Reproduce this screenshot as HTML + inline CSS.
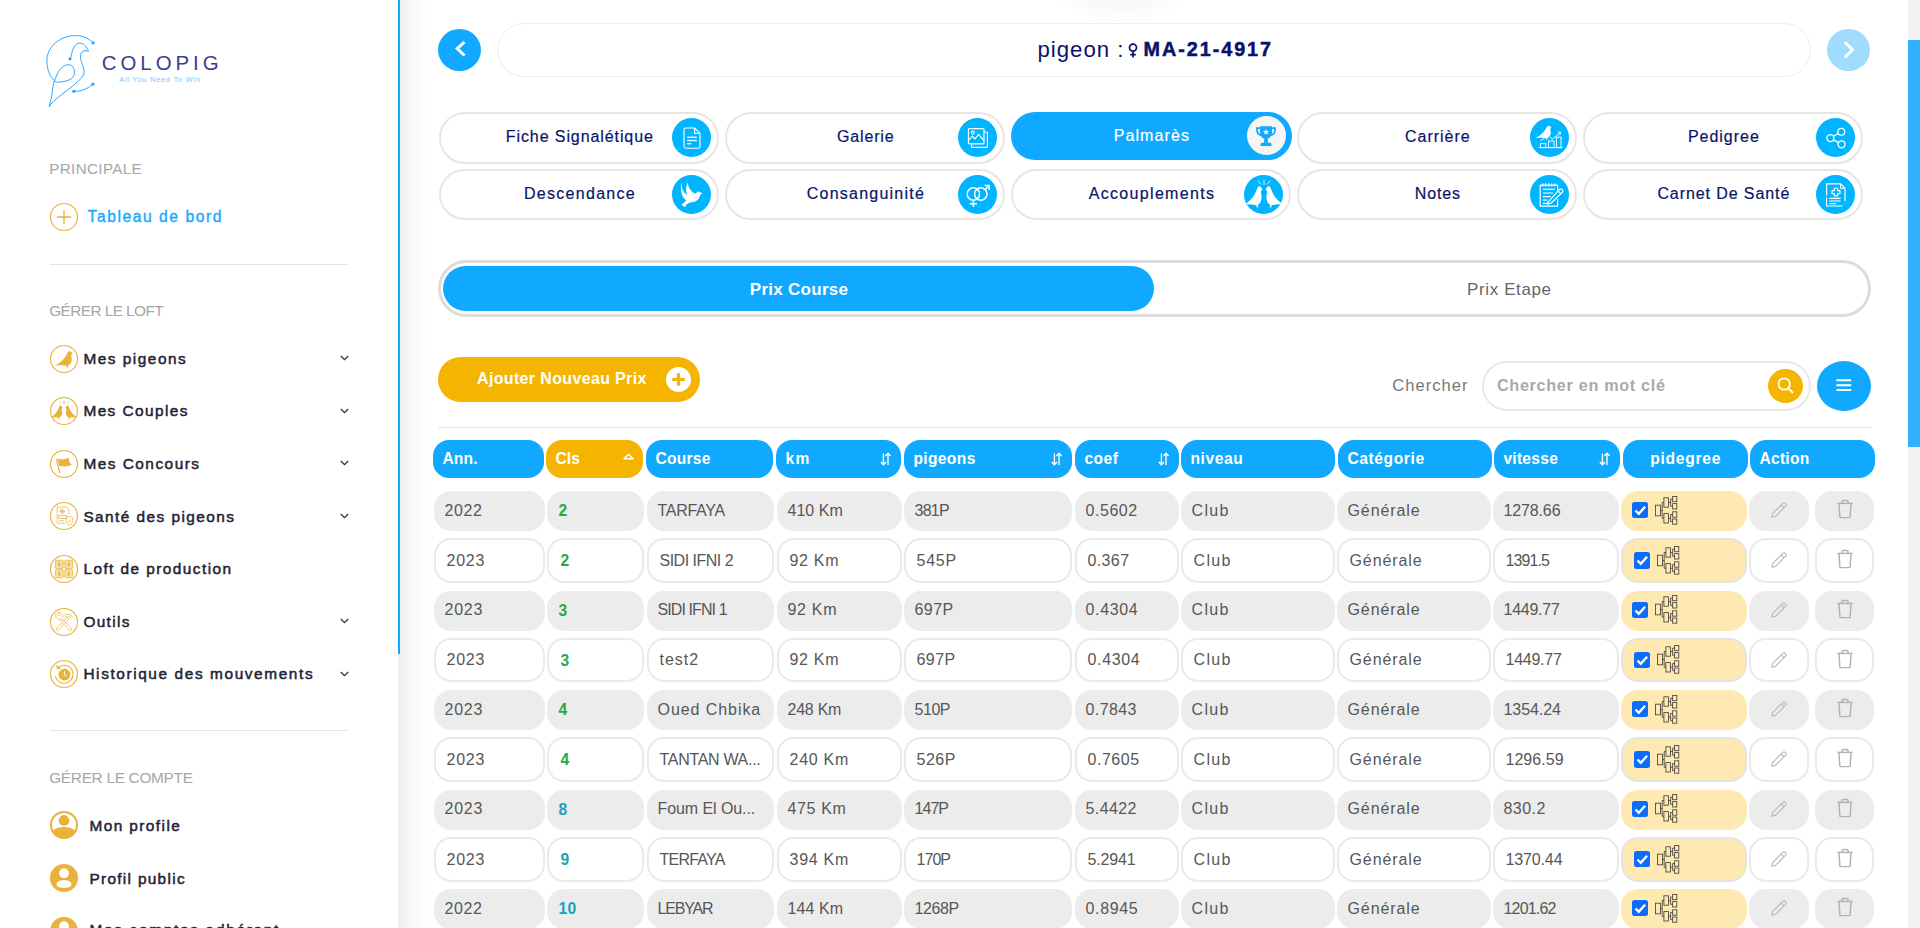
<!DOCTYPE html>
<html lang="fr"><head><meta charset="utf-8"><title>COLOPIG - Palmarès</title>
<style>
html,body{margin:0;padding:0}
body{width:1920px;height:928px;overflow:hidden;position:relative;background:#fff;font-family:"Liberation Sans",sans-serif;}
.b{position:absolute;box-sizing:border-box}
.t{position:absolute;white-space:nowrap;display:block}
svg{position:absolute;overflow:visible}
</style></head><body>

<div class="b " style="left:398.00px;top:0.00px;width:1510.00px;height:928.00px;background:linear-gradient(to right,#ededed 0,#f6f6f6 10px,#fcfcfc 24px,#fff 36px);"></div>
<div class="b " style="left:1052.00px;top:-34.00px;width:140.00px;height:58.00px;background:radial-gradient(ellipse at 50% 50%,rgba(0,0,0,0.04) 0,rgba(0,0,0,0.022) 35%,rgba(0,0,0,0) 68%);"></div>
<div class="b " style="left:0.00px;top:0.00px;width:398.00px;height:928.00px;background:#fff;"></div>
<div class="b " style="left:398.00px;top:0.00px;width:2.00px;height:654.00px;background:#10a9ff;"></div>
<svg style="left:40px;top:30px" width="64" height="84" viewBox="40 30 64 84">
<g fill="none" stroke="#1ea2ff" stroke-width="0.95" stroke-linecap="round" stroke-linejoin="round">
<path d="M93.1 42.9 C88.5 37.6 81.5 35.2 73.75 35.6 C58 36.6 46.6 48 46.9 61.25 C47.1 70 50 77.4 55 81.25 C57 82.4 59.2 82.3 61.25 81.9 C65 81.4 68.6 80.6 71.25 78.75 C73.8 76.8 74.8 74 74.4 71.25 C74.2 69.2 73.6 67.4 72.5 66.25 C71.2 65 69.4 64.6 67.5 64.75 C65.2 65 63 66.4 61.25 68.1 C59.4 70 58 72.4 56.9 75 C55.6 77.6 54.6 80 53.75 82.5 C52.8 86.5 52.4 91 51.9 95 C51.2 99 50.2 103 49.4 106.25"/>
<path d="M49.4 106.25 C51 103.8 53 101.8 55 100 C59 96.4 63.4 93.2 67.5 90 C71.2 87.2 75 84.4 78.1 81.25 C80.4 79 82.8 76.6 83.75 73.75 C84.4 71.2 83.8 68.6 83.1 66.25 C82.4 63.8 81 61.4 80.6 58.75 C80.4 56.8 80.4 54.6 81.25 53.1 C82.2 51.6 83.4 50.8 85 50.6 C86.2 50.6 87.4 51 88.5 51.25 C88.2 50 87.6 49 86.9 48.1 C86 46.6 85 45.2 83.75 44.4 C82.4 43.6 81 43.1 79.4 43.1 C77.6 43.2 76 44.2 75 45.6 C73.8 47 73 48.8 72.5 50.6 C71.8 52.8 71.2 55.2 70.6 57.5 L70 58.75"/>
<path d="M73.75 91.25 C80 91.6 87 89.6 92.9 84.1"/>
</g>
<g fill="#1ea2ff"><circle cx="93.1" cy="42.9" r="1.6"/><circle cx="70" cy="58.75" r="1.6"/><circle cx="73.75" cy="91.25" r="1.6"/><circle cx="92.9" cy="84.1" r="1.6"/></g>
</svg>
<span class="t" style="left:101.70px;top:47.80px;line-height:30px;font-size:20.4px;color:#3a3e8c;letter-spacing:4.007px;font-weight:normal;">COLOPIG</span>
<span class="t" style="left:119.20px;top:73.80px;line-height:11px;font-size:7.6px;color:#7cc8ff;letter-spacing:0.672px;">All You Need To Win</span>
<span class="t" style="left:49.20px;top:157.80px;line-height:22px;font-size:15.2px;color:#a6a6a6;letter-spacing:0.374px;">PRINCIPALE</span>
<svg style="left:49.00px;top:202.40px" width="30" height="30" viewBox="-15 -15 30 30"><circle r="13.5" fill="#fff" stroke="#e9b23a" stroke-width="1.15"/><path d="M0 -7 V7 M-7 0 H7" stroke="#e9b23a" stroke-width="1.3" fill="none"/></svg>
<span class="t" style="left:87.50px;top:204.80px;line-height:23px;font-size:15.6px;color:#10a9ff;letter-spacing:1.581px;-webkit-text-stroke:0.35px #10a9ff;">Tableau de bord</span>
<div class="b " style="left:50.00px;top:264.00px;width:298.00px;height:1.00px;background:#e4e4e4;"></div>
<span class="t" style="left:49.20px;top:299.20px;line-height:23px;font-size:15.4px;color:#a6a6a6;letter-spacing:-0.578px;">GÉRER LE LOFT</span>
<svg style="left:49.00px;top:343.60px" width="30" height="30" viewBox="-15 -15 30 30"><circle r="13.5" fill="#fff" stroke="#e9b23a" stroke-width="1.15"/><g transform="translate(-9,-7.8)"><path d="M14.6 0 C15.8 0 16.6 0.8 16.8 1.8 L17.9 2.5 L16.6 3 C16.4 3.6 16.2 4.2 16.2 5 C16.8 7 17 9 16.4 10.6 C15.8 12.4 14.6 13.6 13.2 14.2 L13 15.5 L14.2 16.1 L11 16.1 L11.8 15.3 L11.8 14.5 C10 14.6 7.6 14.2 5.8 13.9 L0 14.2 L3.4 12.2 C5.8 10.6 8.2 8.4 10 6 C11 4.6 11.6 3.4 12.2 2.2 C12.7 0.9 13.5 0 14.6 0 Z" fill="#e9b23a"/></g></svg>
<span class="t" style="left:83.40px;top:346.80px;line-height:23px;font-size:15.4px;color:#1f2433;letter-spacing:1.508px;-webkit-text-stroke:0.5px #1f2433;">Mes pigeons</span>
<svg style="left:339.5px;top:355.1px" width="9" height="6" viewBox="0 0 9 6"><path d="M0.8 1 L4.5 4.6 L8.2 1" fill="none" stroke="#333" stroke-width="1.3"/></svg>
<svg style="left:49.00px;top:396.20px" width="30" height="30" viewBox="-15 -15 30 30"><circle r="13.5" fill="#fff" stroke="#e9b23a" stroke-width="1.15"/><clipPath id="cc411"><circle r="13.6"/></clipPath><g clip-path="url(#cc411)"><g transform="translate(-13.2,-5.6) scale(0.67,0.857)"><path d="M14.6 0 C15.8 0 16.6 0.8 16.8 1.8 L17.9 2.5 L16.6 3 C16.4 3.6 16.2 4.2 16.2 5 C16.8 7 17 9 16.4 10.6 C15.8 12.4 14.6 13.6 13.2 14.2 L13 15.5 L14.2 16.1 L11 16.1 L11.8 15.3 L11.8 14.5 C10 14.6 7.6 14.2 5.8 13.9 L0 14.2 L3.4 12.2 C5.8 10.6 8.2 8.4 10 6 C11 4.6 11.6 3.4 12.2 2.2 C12.7 0.9 13.5 0 14.6 0 Z" fill="#e9b23a"/></g><g transform="translate(13.2,-5.6) scale(-0.67,0.857)"><path d="M14.6 0 C15.8 0 16.6 0.8 16.8 1.8 L17.9 2.5 L16.6 3 C16.4 3.6 16.2 4.2 16.2 5 C16.8 7 17 9 16.4 10.6 C15.8 12.4 14.6 13.6 13.2 14.2 L13 15.5 L14.2 16.1 L11 16.1 L11.8 15.3 L11.8 14.5 C10 14.6 7.6 14.2 5.8 13.9 L0 14.2 L3.4 12.2 C5.8 10.6 8.2 8.4 10 6 C11 4.6 11.6 3.4 12.2 2.2 C12.7 0.9 13.5 0 14.6 0 Z" fill="#e9b23a"/></g></g><path d="M0 -10.6 V-6.8" stroke="#e9b23a" stroke-width="1.3" fill="none" opacity="0.8"/><path d="M-5 -10.1 L-2.4 -7.2 M5 -10.1 L2.4 -7.2" stroke="#e9b23a" stroke-width="0.7" fill="none"/></svg>
<span class="t" style="left:83.40px;top:399.40px;line-height:23px;font-size:15.4px;color:#1f2433;letter-spacing:1.421px;-webkit-text-stroke:0.5px #1f2433;">Mes Couples</span>
<svg style="left:339.5px;top:407.7px" width="9" height="6" viewBox="0 0 9 6"><path d="M0.8 1 L4.5 4.6 L8.2 1" fill="none" stroke="#333" stroke-width="1.3"/></svg>
<svg style="left:49.00px;top:448.80px" width="30" height="30" viewBox="-15 -15 30 30"><circle r="13.5" fill="#fff" stroke="#e9b23a" stroke-width="1.15"/><path d="M-7.6 -5.2 L-4.2 9.2" stroke="#e9b23a" stroke-width="1.3" fill="none"/><path d="M-6.4 -5.4 C-3 -4 1 -4.6 4.6 -6.6 L5.4 -1.8 L7.8 0.8 C4 2.6 -1 2.8 -4.6 2 Z" fill="#e9b23a"/></svg>
<span class="t" style="left:83.40px;top:452.00px;line-height:23px;font-size:15.4px;color:#1f2433;letter-spacing:1.493px;-webkit-text-stroke:0.5px #1f2433;">Mes Concours</span>
<svg style="left:339.5px;top:460.3px" width="9" height="6" viewBox="0 0 9 6"><path d="M0.8 1 L4.5 4.6 L8.2 1" fill="none" stroke="#333" stroke-width="1.3"/></svg>
<svg style="left:49.00px;top:501.40px" width="30" height="30" viewBox="-15 -15 30 30"><circle r="13.5" fill="#fff" stroke="#e9b23a" stroke-width="1.15"/><g fill="none" stroke="#e9b23a" stroke-width="0.7"><path d="M-6.8 -9 H2.4 L5 -6.4 V-2 M-6.8 -9 V7.2 H1"/><rect x="-5.2" y="-0.6" width="8" height="3.2"/><path d="M-5.2 4.8 H0"/><circle cx="-1.8" cy="-4.6" r="1.9"/><path d="M-1.8 -7.4 V-1.8 M-4.6 -4.6 H1"/><path d="M5.4 0.4 L8.6 1.4 V4.6 C8.6 7 7 8.6 5.4 9.4 C3.8 8.6 2.2 7 2.2 4.6 V1.4 Z"/><path d="M3.8 5 L5 6.2 L7.2 3.6"/></g></svg>
<span class="t" style="left:83.40px;top:504.60px;line-height:23px;font-size:15.4px;color:#1f2433;letter-spacing:1.443px;-webkit-text-stroke:0.5px #1f2433;">Santé des pigeons</span>
<svg style="left:339.5px;top:512.9px" width="9" height="6" viewBox="0 0 9 6"><path d="M0.8 1 L4.5 4.6 L8.2 1" fill="none" stroke="#333" stroke-width="1.3"/></svg>
<svg style="left:49.00px;top:554.00px" width="30" height="30" viewBox="-15 -15 30 30"><circle r="13.5" fill="#fff" stroke="#e9b23a" stroke-width="1.15"/><g fill="#f6dfa6" stroke="#e9b23a" stroke-width="0.75"><rect x="-8.6" y="-8.8" width="7.8" height="8.2" rx="1"/><rect x="0.8" y="-8.8" width="7.8" height="8.2" rx="1"/><rect x="-8.6" y="0.6" width="7.8" height="8.2" rx="1"/><rect x="0.8" y="0.6" width="7.8" height="8.2" rx="1"/></g><g fill="#e9b23a"><rect x="-5.6" y="-6.6" width="1.8" height="3.8"/><rect x="3.8" y="-6.6" width="1.8" height="3.8"/><rect x="-5.6" y="2.8" width="1.8" height="3.8"/><rect x="3.8" y="2.8" width="1.8" height="3.8"/></g></svg>
<span class="t" style="left:83.40px;top:557.20px;line-height:23px;font-size:15.4px;color:#1f2433;letter-spacing:1.440px;-webkit-text-stroke:0.5px #1f2433;">Loft de production</span>
<svg style="left:49.00px;top:606.60px" width="30" height="30" viewBox="-15 -15 30 30"><circle r="13.5" fill="#fff" stroke="#e9b23a" stroke-width="1.15"/><g fill="none" stroke="#e9b23a" stroke-width="0.75" stroke-linejoin="round"><path d="M-8 7 L3.2 -4.6 L5 -2.8 L-6.2 8.8 Z"/><path d="M1 -7.4 C3.4 -8.6 6.4 -8 8.4 -5.4 L6.8 -4.2 L4.6 -6 L2.6 -4.2 Z"/><path d="M8 7 L-2.2 -3.4 L-4 -1.6 L6.2 8.8 Z"/><path d="M-3 -2.6 C-4.6 -2.2 -6.6 -3 -7.8 -4.6 C-8.6 -6 -8.6 -7.4 -8 -8.4 L-5.6 -6 L-4 -7.6 L-6.2 -9.8 C-4.6 -10 -3 -9.4 -2 -8 C-1 -6.6 -1 -5 -1.4 -4"/></g></svg>
<span class="t" style="left:83.40px;top:609.80px;line-height:23px;font-size:15.4px;color:#1f2433;letter-spacing:1.323px;-webkit-text-stroke:0.5px #1f2433;">Outils</span>
<svg style="left:339.5px;top:618.1px" width="9" height="6" viewBox="0 0 9 6"><path d="M0.8 1 L4.5 4.6 L8.2 1" fill="none" stroke="#333" stroke-width="1.3"/></svg>
<svg style="left:49.00px;top:659.20px" width="30" height="30" viewBox="-15 -15 30 30"><circle r="13.5" fill="#fff" stroke="#e9b23a" stroke-width="1.15"/><circle cx="0.4" cy="0.6" r="5.9" fill="#e9b23a"/><path d="M0.4 -2.8 V0.8 L2.8 2.2" stroke="#fff" stroke-width="1" fill="none"/><path d="M-5.6 -6.4 C-2.8 -9.2 2.4 -9.6 6 -6.6 C9.8 -3.2 10 2.6 6.6 6.4 C3.2 10 -2.6 10.2 -6 6.8 C-7.4 5.4 -8.2 3.8 -8.6 2" fill="none" stroke="#e9b23a" stroke-width="1.1"/><path d="M-7.8 -9.2 L-7 -4.8 L-2.8 -5.6 Z" fill="#e9b23a"/></svg>
<span class="t" style="left:83.40px;top:662.40px;line-height:23px;font-size:15.4px;color:#1f2433;letter-spacing:1.601px;-webkit-text-stroke:0.5px #1f2433;">Historique des mouvements</span>
<svg style="left:339.5px;top:670.7px" width="9" height="6" viewBox="0 0 9 6"><path d="M0.8 1 L4.5 4.6 L8.2 1" fill="none" stroke="#333" stroke-width="1.3"/></svg>
<div class="b " style="left:50.00px;top:730.00px;width:298.00px;height:1.00px;background:#e4e4e4;"></div>
<span class="t" style="left:49.20px;top:766.20px;line-height:23px;font-size:15.4px;color:#a6a6a6;letter-spacing:-0.303px;">GÉRER LE COMPTE</span>
<svg style="left:49.00px;top:810.30px" width="30" height="30" viewBox="-15 -15 30 30"><circle r="13" fill="#fff" stroke="#e9b23a" stroke-width="2"/><circle cx="0" cy="-4.6" r="5.3" fill="#e9b23a"/><path d="M-11.6 6.6 C-8.5 2.8 -4 2 0 2 C4 2 8.5 2.8 11.6 6.6 C9 11 4.6 13.4 0 13.4 C-4.6 13.4 -9 11 -11.6 6.6 Z" fill="#e9b23a"/></svg>
<span class="t" style="left:89.40px;top:814.00px;line-height:23px;font-size:15.4px;color:#1f2433;letter-spacing:1.429px;-webkit-text-stroke:0.5px #1f2433;">Mon profile</span>
<svg style="left:49.00px;top:862.90px" width="30" height="30" viewBox="-15 -15 30 30"><circle r="14" fill="#e9b23a"/><circle cx="0" cy="-4.8" r="4.9" fill="#fff"/><path d="M-7.4 6.6 C-7.4 3.2 -4.2 2.2 0 2.2 C4.2 2.2 7.4 3.2 7.4 6.6 C7.4 8.8 4.5 9.8 0 9.8 C-4.5 9.8 -7.4 8.8 -7.4 6.6 Z" fill="#fff"/></svg>
<span class="t" style="left:89.40px;top:866.60px;line-height:23px;font-size:15.4px;color:#1f2433;letter-spacing:1.308px;-webkit-text-stroke:0.5px #1f2433;">Profil public</span>
<svg style="left:49.00px;top:915.50px" width="30" height="30" viewBox="-15 -15 30 30"><circle r="14" fill="#e9b23a"/><circle cx="0" cy="-4.8" r="4.9" fill="#fff"/><path d="M-7.4 6.6 C-7.4 3.2 -4.2 2.2 0 2.2 C4.2 2.2 7.4 3.2 7.4 6.6 C7.4 8.8 4.5 9.8 0 9.8 C-4.5 9.8 -7.4 8.8 -7.4 6.6 Z" fill="#fff"/></svg>
<span class="t" style="left:89.40px;top:918.20px;line-height:23px;font-size:15.4px;color:#1f2433;letter-spacing:1.703px;-webkit-text-stroke:0.5px #1f2433;">Mes comptes adhérent</span>
<div class="b " style="left:438.00px;top:28.70px;width:43.00px;height:42.60px;background:#10a9ff;border-radius:50%;"></div>
<svg style="left:438.8px;top:28.2px" width="43" height="43" viewBox="0 0 43 43"><path d="M25.5 14 L18.2 20.6 L25.5 27.5" fill="none" stroke="#fff" stroke-width="3" stroke-linecap="butt" stroke-linejoin="miter"/></svg>
<div class="b " style="left:497.00px;top:23.00px;width:1314.00px;height:54.00px;background:#fff;border:1px solid #ededed;border-radius:27px;"></div>
<span class="t" style="left:1037.40px;top:32.80px;line-height:33px;font-size:22.2px;color:#08136a;letter-spacing:1.012px;">pigeon :</span>
<svg style="left:1127.5px;top:43px" width="10" height="15" viewBox="0 0 10 15"><circle cx="5" cy="4.6" r="3.5" fill="none" stroke="#08136a" stroke-width="1.7"/><path d="M5 8.2 V14.6 M2.2 11.6 H7.8" stroke="#08136a" stroke-width="1.7" fill="none"/></svg>
<span class="t" style="left:1143.60px;top:35.40px;line-height:29px;font-size:19.8px;color:#08136a;letter-spacing:1.945px;font-weight:bold;-webkit-text-stroke:0.5px #08136a;">MA-21-4917</span>
<div class="b " style="left:1827.00px;top:28.70px;width:43.00px;height:42.60px;background:#a0dcfe;border-radius:50%;"></div>
<svg style="left:1827px;top:28.8px" width="43" height="43" viewBox="0 0 43 43"><path d="M18.6 14 L25.6 20.6 L18.6 27.5" fill="none" stroke="#fff" stroke-width="3" stroke-linecap="round" stroke-linejoin="round"/></svg>
<div class="b " style="left:439.20px;top:112.00px;width:280.30px;height:52.00px;background:#fff;border:2px solid #e6e6e6;border-radius:26px;"></div>
<div class="b " style="left:672.20px;top:118.40px;width:39.00px;height:39.00px;background:#00b4ff;border-radius:50%;"></div>
<svg style="left:671.70px;top:117.90px" width="40" height="40" viewBox="-20 -20 40 40"><g fill="none" stroke="#fff" stroke-width="1.1" stroke-linejoin="round"><path d="M-6.4 -10 H2.6 L8 -4.6 V8.6 C8 9.6 7.4 10.2 6.4 10.2 H-6.4 C-7.4 10.2 -8 9.6 -8 8.6 V-8.4 C-8 -9.4 -7.4 -10 -6.4 -10 Z"/><path d="M2.6 -10 V-4.6 H8"/></g><g fill="#fff"><rect x="-4.8" y="-1.4" width="9.6" height="1.2"/><rect x="-4.8" y="1.8" width="9.6" height="1.4"/><rect x="-4.8" y="5" width="4" height="1.4"/></g></svg>
<span class="t" style="left:179.35px;width:800px;text-align:center;top:125.30px;line-height:24px;font-size:16px;color:#08136a;letter-spacing:0.909px;text-indent:0.909px;-webkit-text-stroke:0.2px #08136a;">Fiche Signalétique</span>
<div class="b " style="left:725.20px;top:112.00px;width:280.30px;height:52.00px;background:#fff;border:2px solid #e6e6e6;border-radius:26px;"></div>
<div class="b " style="left:958.20px;top:118.40px;width:39.00px;height:39.00px;background:#00b4ff;border-radius:50%;"></div>
<svg style="left:957.70px;top:117.90px" width="40" height="40" viewBox="-20 -20 40 40"><g fill="none" stroke="#fff" stroke-width="1.15" stroke-linejoin="round"><rect x="-9.6" y="-9.4" width="15.6" height="15.2" rx="1"/><path d="M-6.4 5.8 V8.4 C-6.4 9 -6 9.4 -5.4 9.4 H8.4 C9 9.4 9.4 9 9.4 8.4 V-5 C9.4 -5.6 9 -6 8.4 -6 H6"/><circle cx="-5.2" cy="-5.4" r="1.5"/><path d="M-9.6 2.4 L-5.6 -1.8 L-3 1 L0.6 -3.6 L6 2.6"/></g></svg>
<span class="t" style="left:465.35px;width:800px;text-align:center;top:125.30px;line-height:24px;font-size:16px;color:#08136a;letter-spacing:0.846px;text-indent:0.846px;-webkit-text-stroke:0.2px #08136a;">Galerie</span>
<div class="b " style="left:1010.90px;top:112.00px;width:280.90px;height:48.00px;background:#10a9ff;border-radius:24px;"></div>
<div class="b " style="left:1246.90px;top:116.10px;width:39.00px;height:39.00px;background:#f5f5f5;border-radius:50%;"></div>
<svg style="left:1246.40px;top:115.60px" width="40" height="40" viewBox="-20 -20 40 40"><g transform="translate(0,0.6) scale(1.08)"><path d="M-5.6 -9.6 H5.6 V-4.6 C5.6 -0.6 3.4 1.8 0 2.4 C-3.4 1.8 -5.6 -0.6 -5.6 -4.6 Z" fill="#10a9ff"/><path d="M-5.6 -7.8 H-8.4 C-8.6 -3.6 -7 -1.8 -4.6 -1.2 M5.6 -7.8 H8.4 C8.6 -3.6 7 -1.8 4.6 -1.2" fill="none" stroke="#10a9ff" stroke-width="1.6"/><path d="M-1.5 2 H1.5 L2 5.6 H-2 Z" fill="#10a9ff"/><path d="M-4.4 5.6 H4.4 L5.4 8.8 H-5.4 Z" fill="#10a9ff"/><path d="M0 -7.4 L0.8 -5.3 L3 -5.2 L1.3 -3.8 L1.9 -1.7 L0 -2.9 L-1.9 -1.7 L-1.3 -3.8 L-3 -5.2 L-0.8 -5.3 Z" fill="#f5f5f5"/></g></svg>
<span class="t" style="left:751.35px;width:800px;text-align:center;top:123.90px;line-height:24px;font-size:16px;color:#fff;letter-spacing:1.078px;text-indent:1.078px;-webkit-text-stroke:0.2px #fff;">Palmarès</span>
<div class="b " style="left:1297.20px;top:112.00px;width:280.30px;height:52.00px;background:#fff;border:2px solid #e6e6e6;border-radius:26px;"></div>
<div class="b " style="left:1530.20px;top:118.40px;width:39.00px;height:39.00px;background:#00b4ff;border-radius:50%;"></div>
<svg style="left:1529.70px;top:117.90px" width="40" height="40" viewBox="-20 -20 40 40"><g transform="translate(-14.5,-12.3) scale(0.91,0.86)"><path d="M14.6 0 C15.8 0 16.6 0.8 16.8 1.8 L17.9 2.5 L16.6 3 C16.4 3.6 16.2 4.2 16.2 5 C16.8 7 17 9 16.4 10.6 C15.8 12.4 14.6 13.6 13.2 14.2 L13 15.5 L14.2 16.1 L11 16.1 L11.8 15.3 L11.8 14.5 C10 14.6 7.6 14.2 5.8 13.9 L0 14.2 L3.4 12.2 C5.8 10.6 8.2 8.4 10 6 C11 4.6 11.6 3.4 12.2 2.2 C12.7 0.9 13.5 0 14.6 0 Z" fill="#fff"/></g><g fill="none" stroke="#fff" stroke-width="0.95"><path d="M-11.4 9.6 H12.8"/><rect x="-9.6" y="5.6" width="5.4" height="4"/><rect x="-1.4" y="3" width="5.4" height="6.6"/><rect x="6.4" y="-0.8" width="4.6" height="10.4"/><path d="M-9.6 2.8 L-5.6 0.2 M0 -1 L2.4 1 L10 -5"/><path d="M7.8 -6.2 L10.6 -5.6 L9.8 -2.8"/></g></svg>
<span class="t" style="left:1037.35px;width:800px;text-align:center;top:125.30px;line-height:24px;font-size:16px;color:#08136a;letter-spacing:0.976px;text-indent:0.976px;-webkit-text-stroke:0.2px #08136a;">Carrière</span>
<div class="b " style="left:1583.20px;top:112.00px;width:280.30px;height:52.00px;background:#fff;border:2px solid #e6e6e6;border-radius:26px;"></div>
<div class="b " style="left:1816.20px;top:118.40px;width:39.00px;height:39.00px;background:#00b4ff;border-radius:50%;"></div>
<svg style="left:1815.70px;top:117.90px" width="40" height="40" viewBox="-20 -20 40 40"><g fill="none" stroke="#fff" stroke-width="1.35"><circle cx="5.3" cy="-6.2" r="3.5"/><circle cx="-5.6" cy="0.1" r="3.5"/><circle cx="5.6" cy="6.3" r="3.5"/><path d="M-2.6 -1.8 L2.3 -4.5 M-2.6 1.9 L2.6 4.6"/></g></svg>
<span class="t" style="left:1323.35px;width:800px;text-align:center;top:125.30px;line-height:24px;font-size:16px;color:#08136a;letter-spacing:0.982px;text-indent:0.982px;-webkit-text-stroke:0.2px #08136a;">Pedigree</span>
<div class="b " style="left:439.20px;top:169.20px;width:280.30px;height:50.60px;background:#fff;border:2px solid #e6e6e6;border-radius:26px;"></div>
<div class="b " style="left:672.20px;top:175.30px;width:39.00px;height:39.00px;background:#00b4ff;border-radius:50%;"></div>
<svg style="left:671.70px;top:174.80px" width="40" height="40" viewBox="-20 -20 40 40"><path d="M-11 -12.4 C-10.4 -7.4 -8.6 -3 -4.4 -0.6 C-6.6 -3.8 -6 -8 -4.4 -12.6 C-3.4 -8 -2 -4.8 1.4 -2.2 C3 -1.2 4 -1.4 4.6 -2.4 C5.4 -3.6 7 -3.8 8 -2.8 L10.8 -1.6 L8.4 -0.6 C8 3.4 4.6 6.8 -0.2 7.2 C-2.4 7.4 -4.4 8.2 -5.4 9.6 L-6.8 12 L-8.2 11.2 L-10.6 10 L-5.8 5.4 C-9.4 3 -11.8 -2 -11 -12.4 Z" fill="#fff"/><path d="M-9.6 -4.8 C-8.4 -2.6 -7 -1.2 -5 0 M-10.4 -7.8 C-9 -4.8 -7.4 -2.8 -5 -1.4" stroke="#00b4ff" stroke-width="0.6" fill="none"/></svg>
<span class="t" style="left:179.35px;width:800px;text-align:center;top:181.80px;line-height:24px;font-size:16px;color:#08136a;letter-spacing:1.287px;text-indent:1.287px;-webkit-text-stroke:0.2px #08136a;">Descendance</span>
<div class="b " style="left:725.20px;top:169.20px;width:280.30px;height:50.60px;background:#fff;border:2px solid #e6e6e6;border-radius:26px;"></div>
<div class="b " style="left:958.20px;top:175.30px;width:39.00px;height:39.00px;background:#00b4ff;border-radius:50%;"></div>
<svg style="left:957.70px;top:174.80px" width="40" height="40" viewBox="-20 -20 40 40"><g fill="none" stroke="#fff" stroke-width="1.5"><circle cx="-4.6" cy="-1" r="6.2"/><circle cx="2.8" cy="-1" r="6.2"/><path d="M-4.6 5.2 V12 M-8.2 8.8 H-1 M7.2 -5.4 L11 -9.2 M6.6 -9.6 H11.2 V-5"/></g></svg>
<span class="t" style="left:465.35px;width:800px;text-align:center;top:181.80px;line-height:24px;font-size:16px;color:#08136a;letter-spacing:1.223px;text-indent:1.223px;-webkit-text-stroke:0.2px #08136a;">Consanguinité</span>
<div class="b " style="left:1011.20px;top:169.20px;width:280.30px;height:50.60px;background:#fff;border:2px solid #e6e6e6;border-radius:26px;"></div>
<div class="b " style="left:1244.20px;top:175.30px;width:39.00px;height:39.00px;background:#00b4ff;border-radius:50%;"></div>
<svg style="left:1243.70px;top:174.80px" width="40" height="40" viewBox="-20 -20 40 40"><clipPath id="ccw"><circle r="19.6"/></clipPath><g clip-path="url(#ccw)"><g transform="translate(-19.2,-8.75) scale(1,1.3)"><path d="M14.6 0 C15.8 0 16.6 0.8 16.8 1.8 L17.9 2.5 L16.6 3 C16.4 3.6 16.2 4.2 16.2 5 C16.8 7 17 9 16.4 10.6 C15.8 12.4 14.6 13.6 13.2 14.2 L13 15.5 L14.2 16.1 L11 16.1 L11.8 15.3 L11.8 14.5 C10 14.6 7.6 14.2 5.8 13.9 L0 14.2 L3.4 12.2 C5.8 10.6 8.2 8.4 10 6 C11 4.6 11.6 3.4 12.2 2.2 C12.7 0.9 13.5 0 14.6 0 Z" fill="#fff"/></g><g transform="translate(19.2,-8.75) scale(-1,1.3)"><path d="M14.6 0 C15.8 0 16.6 0.8 16.8 1.8 L17.9 2.5 L16.6 3 C16.4 3.6 16.2 4.2 16.2 5 C16.8 7 17 9 16.4 10.6 C15.8 12.4 14.6 13.6 13.2 14.2 L13 15.5 L14.2 16.1 L11 16.1 L11.8 15.3 L11.8 14.5 C10 14.6 7.6 14.2 5.8 13.9 L0 14.2 L3.4 12.2 C5.8 10.6 8.2 8.4 10 6 C11 4.6 11.6 3.4 12.2 2.2 C12.7 0.9 13.5 0 14.6 0 Z" fill="#fff"/></g></g><path d="M0 -15.4 V-10 M-6.4 -14.6 L-2.8 -10.4 M6.4 -14.6 L2.8 -10.4" stroke="#fff" stroke-width="0.8" fill="none"/></svg>
<span class="t" style="left:751.35px;width:800px;text-align:center;top:181.80px;line-height:24px;font-size:16px;color:#08136a;letter-spacing:1.331px;text-indent:1.331px;-webkit-text-stroke:0.2px #08136a;">Accouplements</span>
<div class="b " style="left:1297.20px;top:169.20px;width:280.30px;height:50.60px;background:#fff;border:2px solid #e6e6e6;border-radius:26px;"></div>
<div class="b " style="left:1530.20px;top:175.30px;width:39.00px;height:39.00px;background:#00b4ff;border-radius:50%;"></div>
<svg style="left:1529.70px;top:174.80px" width="40" height="40" viewBox="-20 -20 40 40"><g fill="none" stroke="#fff" stroke-width="1.2" stroke-linejoin="round"><path d="M7.6 4 V11.2 H-9.8 V-9.8 H7.6 V-4.6"/><path d="M-7 -5.6 H4.8 M-7 -2 H3 M-7 1.6 H0.6 M-7 5.2 H-2.4 M-7 8.4 H-2"/><path d="M-7.2 -11.8 V-8.4 M-4.2 -11.8 V-8.4 M-1.2 -11.8 V-8.4 M1.8 -11.8 V-8.4 M4.8 -11.8 V-8.4" stroke-width="1"/><path d="M-1 8.6 L-2.4 9.4 L-1.8 7.2 L9 -5.2 C10 -6.2 11.4 -6.2 12.2 -5.4 C13 -4.6 13 -3.4 12 -2.4 L1.2 8 Z" fill="#00b4ff"/><path d="M8 -4 L10.8 -1.4"/></g></svg>
<span class="t" style="left:1037.35px;width:800px;text-align:center;top:181.80px;line-height:24px;font-size:16px;color:#08136a;letter-spacing:0.841px;text-indent:0.841px;-webkit-text-stroke:0.2px #08136a;">Notes</span>
<div class="b " style="left:1583.20px;top:169.20px;width:280.30px;height:50.60px;background:#fff;border:2px solid #e6e6e6;border-radius:26px;"></div>
<div class="b " style="left:1816.20px;top:175.30px;width:39.00px;height:39.00px;background:#00b4ff;border-radius:50%;"></div>
<svg style="left:1815.70px;top:174.80px" width="40" height="40" viewBox="-20 -20 40 40"><g fill="none" stroke="#fff" stroke-width="1.15" stroke-linejoin="round"><path d="M-9.4 0.6 V-11.2 H4.6 L9 -6.8 V6.2 M-9.4 2.4 V11 H6.6 M9 8 V8.6"/><path d="M4.6 -11.2 V-6.8 H9" /><path d="M-1.6 -6.8 H1.6 V-4.4 H4 V-1.4 H1.6 V1 H-1.6 V-1.4 H-4 V-4.4 H-1.6 Z"/><path d="M-6.6 3.4 H4.6 M-6.6 6 H4.6 M-6.6 8.6 H0"/></g></svg>
<span class="t" style="left:1323.35px;width:800px;text-align:center;top:181.80px;line-height:24px;font-size:16px;color:#08136a;letter-spacing:0.908px;text-indent:0.908px;-webkit-text-stroke:0.2px #08136a;">Carnet De Santé</span>
<div class="b " style="left:438.00px;top:260.00px;width:1433.00px;height:57.00px;background:#fff;border:3px solid #dcdcdc;border-radius:29px;"></div>
<div class="b " style="left:443.00px;top:266.00px;width:710.50px;height:45.00px;background:#10a9ff;border-radius:23px;"></div>
<span class="t" style="left:749.80px;top:276.70px;line-height:25px;font-size:17px;color:#fff;letter-spacing:0.279px;font-weight:bold;">Prix Course</span>
<span class="t" style="left:1467.00px;top:276.70px;line-height:25px;font-size:17px;color:#666;letter-spacing:0.627px;">Prix Etape</span>
<div class="b " style="left:438.00px;top:357.00px;width:262.00px;height:45.00px;background:#f5b400;border-radius:23px;"></div>
<span class="t" style="left:477.00px;top:366.50px;line-height:24px;font-size:16px;color:#fff;letter-spacing:0.350px;font-weight:bold;">Ajouter Nouveau Prix</span>
<div class="b " style="left:666.00px;top:367.00px;width:25.00px;height:25.00px;background:#fff;border-radius:50%;"></div>
<svg style="left:666px;top:367px" width="25" height="25" viewBox="0 0 25 25"><path d="M12.5 6.3 V18.7 M6.3 12.5 H18.7" stroke="#f5b400" stroke-width="3.2" fill="none"/></svg>
<span class="t" style="left:1392.20px;top:374.00px;line-height:24px;font-size:16.6px;color:#777;letter-spacing:1.028px;">Chercher</span>
<div class="b " style="left:1482.00px;top:361.00px;width:329.00px;height:49.50px;background:#fff;border:2px solid #e9e9e9;border-radius:25px;"></div>
<span class="t" style="left:1497.00px;top:373.00px;line-height:24px;font-size:16.2px;color:#a9a9a9;letter-spacing:0.681px;font-weight:bold;">Chercher en mot clé</span>
<div class="b " style="left:1768.00px;top:369.00px;width:35.00px;height:34.00px;background:#f5b400;border-radius:50%;"></div>
<svg style="left:1768px;top:369px" width="35" height="34" viewBox="0 0 35 34"><circle cx="16.2" cy="15" r="5.7" fill="none" stroke="#fff" stroke-width="1.8"/><path d="M20.4 19.4 L24.4 23.4" stroke="#fff" stroke-width="1.9" stroke-linecap="round"/></svg>
<div class="b " style="left:1817.00px;top:361.00px;width:54.00px;height:50.00px;background:#10a9ff;border-radius:50%;"></div>
<svg style="left:1817px;top:361px" width="54" height="50" viewBox="0 0 54 50"><path d="M19.4 19.3 H34.2 M19.4 24.2 H34.2 M19.4 29.1 H34.2" stroke="#fff" stroke-width="2" fill="none"/></svg>
<div class="b " style="left:438.00px;top:427.00px;width:1433.00px;height:1.00px;background:#e6e6e6;"></div>
<div class="b " style="left:433.00px;top:440.00px;width:111.00px;height:38.00px;background:#10a9ff;border-radius:16px;"></div>
<span class="t" style="left:442.40px;top:447.00px;line-height:23px;font-size:15.6px;color:#fff;letter-spacing:0.210px;font-weight:bold;">Ann.</span>
<div class="b " style="left:546.00px;top:440.00px;width:97.00px;height:38.00px;background:#f5b400;border-radius:16px;"></div>
<span class="t" style="left:555.40px;top:447.00px;line-height:23px;font-size:15.6px;color:#fff;letter-spacing:0.141px;font-weight:bold;">Cls</span>
<svg style="left:623px;top:452.5px" width="11" height="7" viewBox="0 0 11 7"><path d="M1 5.8 L5.5 1.2 L10 5.8 Z" fill="none" stroke="#fff" stroke-width="1.5" stroke-linejoin="round"/></svg>
<div class="b " style="left:646.00px;top:440.00px;width:127.00px;height:38.00px;background:#10a9ff;border-radius:16px;"></div>
<span class="t" style="left:655.40px;top:447.00px;line-height:23px;font-size:15.6px;color:#fff;letter-spacing:0.259px;font-weight:bold;">Course</span>
<div class="b " style="left:776.00px;top:440.00px;width:125.00px;height:38.00px;background:#10a9ff;border-radius:16px;"></div>
<span class="t" style="left:785.40px;top:447.00px;line-height:23px;font-size:15.6px;color:#fff;letter-spacing:1.377px;font-weight:bold;">km</span>
<svg style="left:880px;top:452px" width="12" height="14" viewBox="0 0 12 14"><path d="M3.4 1.4 V12.6 M0.8 10 L3.4 12.8 L6 10 M8 13 V1.4 M5.4 4 L8 1.2 L10.6 4" fill="none" stroke="#fff" stroke-width="1.35"/></svg>
<div class="b " style="left:904.00px;top:440.00px;width:168.00px;height:38.00px;background:#10a9ff;border-radius:16px;"></div>
<span class="t" style="left:913.40px;top:447.00px;line-height:23px;font-size:15.6px;color:#fff;letter-spacing:0.356px;font-weight:bold;">pigeons</span>
<svg style="left:1051px;top:452px" width="12" height="14" viewBox="0 0 12 14"><path d="M3.4 1.4 V12.6 M0.8 10 L3.4 12.8 L6 10 M8 13 V1.4 M5.4 4 L8 1.2 L10.6 4" fill="none" stroke="#fff" stroke-width="1.35"/></svg>
<div class="b " style="left:1075.00px;top:440.00px;width:104.00px;height:38.00px;background:#10a9ff;border-radius:16px;"></div>
<span class="t" style="left:1084.40px;top:447.00px;line-height:23px;font-size:15.6px;color:#fff;letter-spacing:0.481px;font-weight:bold;">coef</span>
<svg style="left:1158px;top:452px" width="12" height="14" viewBox="0 0 12 14"><path d="M3.4 1.4 V12.6 M0.8 10 L3.4 12.8 L6 10 M8 13 V1.4 M5.4 4 L8 1.2 L10.6 4" fill="none" stroke="#fff" stroke-width="1.35"/></svg>
<div class="b " style="left:1181.00px;top:440.00px;width:154.00px;height:38.00px;background:#10a9ff;border-radius:16px;"></div>
<span class="t" style="left:1190.40px;top:447.00px;line-height:23px;font-size:15.6px;color:#fff;letter-spacing:0.597px;font-weight:bold;">niveau</span>
<div class="b " style="left:1338.00px;top:440.00px;width:154.00px;height:38.00px;background:#10a9ff;border-radius:16px;"></div>
<span class="t" style="left:1347.40px;top:447.00px;line-height:23px;font-size:15.6px;color:#fff;letter-spacing:0.594px;font-weight:bold;">Catégorie</span>
<div class="b " style="left:1494.00px;top:440.00px;width:126.00px;height:38.00px;background:#10a9ff;border-radius:16px;"></div>
<span class="t" style="left:1503.40px;top:447.00px;line-height:23px;font-size:15.6px;color:#fff;letter-spacing:0.256px;font-weight:bold;">vitesse</span>
<svg style="left:1599px;top:452px" width="12" height="14" viewBox="0 0 12 14"><path d="M3.4 1.4 V12.6 M0.8 10 L3.4 12.8 L6 10 M8 13 V1.4 M5.4 4 L8 1.2 L10.6 4" fill="none" stroke="#fff" stroke-width="1.35"/></svg>
<div class="b " style="left:1622.50px;top:440.00px;width:125.50px;height:38.00px;background:#10a9ff;border-radius:16px;"></div>
<span class="t" style="left:1285.25px;width:800px;text-align:center;top:447.00px;line-height:23px;font-size:15.6px;color:#fff;letter-spacing:0.747px;text-indent:0.747px;font-weight:bold;">pidegree</span>
<div class="b " style="left:1750.00px;top:440.00px;width:125.00px;height:38.00px;background:#10a9ff;border-radius:16px;"></div>
<span class="t" style="left:1759.40px;top:447.00px;line-height:23px;font-size:15.6px;color:#fff;letter-spacing:0.278px;font-weight:bold;">Action</span>
<div class="b " style="left:434.00px;top:491.00px;width:111.00px;height:40.00px;background:#ececec;border-radius:17px;"></div>
<span class="t" style="left:444.50px;top:498.50px;line-height:24px;font-size:16px;color:#575757;letter-spacing:0.577px;">2022</span>
<div class="b " style="left:547.00px;top:491.00px;width:97.00px;height:40.00px;background:#ececec;border-radius:17px;"></div>
<span class="t" style="left:558.50px;top:499.00px;line-height:23px;font-size:15.6px;color:#28a745;letter-spacing:0.300px;font-weight:bold;">2</span>
<div class="b " style="left:647.00px;top:491.00px;width:127.00px;height:40.00px;background:#ececec;border-radius:17px;"></div>
<span class="t" style="left:657.50px;top:498.50px;line-height:24px;font-size:16px;color:#575757;letter-spacing:-0.299px;">TARFAYA</span>
<div class="b " style="left:777.00px;top:491.00px;width:125.00px;height:40.00px;background:#ececec;border-radius:17px;"></div>
<span class="t" style="left:787.50px;top:498.50px;line-height:24px;font-size:16px;color:#575757;letter-spacing:0.018px;">410 Km</span>
<div class="b " style="left:904.00px;top:491.00px;width:168.00px;height:40.00px;background:#ececec;border-radius:17px;"></div>
<span class="t" style="left:914.50px;top:498.50px;line-height:24px;font-size:16px;color:#575757;letter-spacing:-0.717px;">381P</span>
<div class="b " style="left:1075.00px;top:491.00px;width:104.00px;height:40.00px;background:#ececec;border-radius:17px;"></div>
<span class="t" style="left:1085.50px;top:498.50px;line-height:24px;font-size:16px;color:#575757;letter-spacing:0.552px;">0.5602</span>
<div class="b " style="left:1181.00px;top:491.00px;width:154.00px;height:40.00px;background:#ececec;border-radius:17px;"></div>
<span class="t" style="left:1191.50px;top:498.50px;line-height:24px;font-size:16px;color:#575757;letter-spacing:1.348px;">Club</span>
<div class="b " style="left:1337.00px;top:491.00px;width:154.00px;height:40.00px;background:#ececec;border-radius:17px;"></div>
<span class="t" style="left:1347.50px;top:498.50px;line-height:24px;font-size:16px;color:#575757;letter-spacing:0.897px;">Générale</span>
<div class="b " style="left:1493.00px;top:491.00px;width:126.00px;height:40.00px;background:#ececec;border-radius:17px;"></div>
<span class="t" style="left:1503.50px;top:498.50px;line-height:24px;font-size:16px;color:#575757;letter-spacing:-0.134px;">1278.66</span>
<div class="b " style="left:1621.00px;top:491.00px;width:126.00px;height:40.00px;background:#fde9b1;border-radius:17px;"></div>
<div class="b " style="left:1632.00px;top:502.10px;width:16.40px;height:16.40px;background:#0c6cfb;border-radius:2.5px;"></div>
<svg style="left:1632px;top:502.10px" width="16.4" height="16.4" viewBox="0 0 16 16"><path d="M3.4 8.3 L6.6 11.5 L12.8 4.6" fill="none" stroke="#fff" stroke-width="2.3"/></svg>
<svg style="left:1654.80px;top:495.50px" width="23" height="30" viewBox="0 0 23 30"><g fill="none" stroke="#45423a" stroke-width="0.85"><rect x="0.5" y="9.2" width="5" height="10.6"/><rect x="8.9" y="1.8" width="4.6" height="9.4"/><rect x="8.9" y="17.6" width="4.6" height="9.4"/><rect x="17.6" y="0.5" width="4.2" height="5.2"/><rect x="17.6" y="7.6" width="4.2" height="5.4"/><rect x="17.6" y="15.8" width="4.2" height="5.4"/><rect x="17.6" y="23" width="4.2" height="5.2"/><path d="M5.5 14.5 H7.2 M7.2 6.5 V22.3 M7.2 6.5 H8.9 M7.2 22.3 H8.9 M13.5 6.5 H15.6 M15.6 3.1 V10.3 M15.6 3.1 H17.6 M15.6 10.3 H17.6 M13.5 22.3 H15.6 M15.6 18.5 V25.6 M15.6 18.5 H17.6 M15.6 25.6 H17.6"/></g></svg>
<div class="b " style="left:1749.00px;top:491.00px;width:60.00px;height:40.00px;background:#ececec;border-radius:17px;"></div>
<div class="b " style="left:1815.00px;top:491.00px;width:59.00px;height:40.00px;background:#ececec;border-radius:17px;"></div>
<svg style="left:1770.00px;top:501.00px" width="18" height="18" viewBox="-9 -9 18 18"><g fill="none" stroke="#bcbcbc" stroke-width="1.2" stroke-linejoin="round"><path d="M-7.2 7.2 L-6.4 3.6 L3.6 -6.4 C4.4 -7.2 5.6 -7.2 6.4 -6.4 C7.2 -5.6 7.2 -4.4 6.4 -3.6 L-3.6 6.4 Z"/><path d="M2.2 -5 L5 -2.2"/></g></svg>
<svg style="left:1835.50px;top:499.10px" width="18" height="20" viewBox="-9 -10 18 20"><g fill="none" stroke="#b2b2b2" stroke-width="1.45" stroke-linejoin="round"><path d="M-7.6 -5.6 H7.6"/><path d="M-3 -5.8 V-7.4 C-3 -8.2 -2.4 -8.6 -1.8 -8.6 H1.8 C2.4 -8.6 3 -8.2 3 -7.4 V-5.8"/><path d="M-6 -5.4 L-5.2 7.4 C-5.2 8.2 -4.6 8.6 -4 8.6 H4 C4.6 8.6 5.2 8.2 5.2 7.4 L6 -5.4"/></g></svg>
<div class="b " style="left:434.00px;top:538.10px;width:111.00px;height:44.70px;background:#fff;border:2px solid #eaeaea;border-radius:17px;"></div>
<span class="t" style="left:446.50px;top:548.55px;line-height:24px;font-size:16px;color:#575757;letter-spacing:0.727px;">2023</span>
<div class="b " style="left:547.00px;top:538.10px;width:97.00px;height:44.70px;background:#fff;border:2px solid #eaeaea;border-radius:17px;"></div>
<span class="t" style="left:560.50px;top:549.05px;line-height:23px;font-size:15.6px;color:#28a745;letter-spacing:0.300px;font-weight:bold;">2</span>
<div class="b " style="left:647.00px;top:538.10px;width:127.00px;height:44.70px;background:#fff;border:2px solid #eaeaea;border-radius:17px;"></div>
<span class="t" style="left:659.50px;top:548.55px;line-height:24px;font-size:16px;color:#575757;letter-spacing:-0.502px;">SIDI IFNI 2</span>
<div class="b " style="left:777.00px;top:538.10px;width:125.00px;height:44.70px;background:#fff;border:2px solid #eaeaea;border-radius:17px;"></div>
<span class="t" style="left:789.50px;top:548.55px;line-height:24px;font-size:16px;color:#575757;letter-spacing:0.692px;">92 Km</span>
<div class="b " style="left:904.00px;top:538.10px;width:168.00px;height:44.70px;background:#fff;border:2px solid #eaeaea;border-radius:17px;"></div>
<span class="t" style="left:916.50px;top:548.55px;line-height:24px;font-size:16px;color:#575757;letter-spacing:0.733px;">545P</span>
<div class="b " style="left:1075.00px;top:538.10px;width:104.00px;height:44.70px;background:#fff;border:2px solid #eaeaea;border-radius:17px;"></div>
<span class="t" style="left:1087.50px;top:548.55px;line-height:24px;font-size:16px;color:#575757;letter-spacing:0.372px;">0.367</span>
<div class="b " style="left:1181.00px;top:538.10px;width:154.00px;height:44.70px;background:#fff;border:2px solid #eaeaea;border-radius:17px;"></div>
<span class="t" style="left:1193.50px;top:548.55px;line-height:24px;font-size:16px;color:#575757;letter-spacing:1.348px;">Club</span>
<div class="b " style="left:1337.00px;top:538.10px;width:154.00px;height:44.70px;background:#fff;border:2px solid #eaeaea;border-radius:17px;"></div>
<span class="t" style="left:1349.50px;top:548.55px;line-height:24px;font-size:16px;color:#575757;letter-spacing:0.897px;">Générale</span>
<div class="b " style="left:1493.00px;top:538.10px;width:126.00px;height:44.70px;background:#fff;border:2px solid #eaeaea;border-radius:17px;"></div>
<span class="t" style="left:1505.50px;top:548.55px;line-height:24px;font-size:16px;color:#575757;letter-spacing:-0.906px;">1391.5</span>
<div class="b " style="left:1621.00px;top:538.10px;width:126.00px;height:44.70px;background:#fde9b1;border:2px solid #e6e4de;border-radius:17px;"></div>
<div class="b " style="left:1634.00px;top:552.15px;width:16.40px;height:16.40px;background:#0c6cfb;border-radius:2.5px;"></div>
<svg style="left:1634px;top:552.15px" width="16.4" height="16.4" viewBox="0 0 16 16"><path d="M3.4 8.3 L6.6 11.5 L12.8 4.6" fill="none" stroke="#fff" stroke-width="2.3"/></svg>
<svg style="left:1656.80px;top:545.55px" width="23" height="30" viewBox="0 0 23 30"><g fill="none" stroke="#45423a" stroke-width="0.85"><rect x="0.5" y="9.2" width="5" height="10.6"/><rect x="8.9" y="1.8" width="4.6" height="9.4"/><rect x="8.9" y="17.6" width="4.6" height="9.4"/><rect x="17.6" y="0.5" width="4.2" height="5.2"/><rect x="17.6" y="7.6" width="4.2" height="5.4"/><rect x="17.6" y="15.8" width="4.2" height="5.4"/><rect x="17.6" y="23" width="4.2" height="5.2"/><path d="M5.5 14.5 H7.2 M7.2 6.5 V22.3 M7.2 6.5 H8.9 M7.2 22.3 H8.9 M13.5 6.5 H15.6 M15.6 3.1 V10.3 M15.6 3.1 H17.6 M15.6 10.3 H17.6 M13.5 22.3 H15.6 M15.6 18.5 V25.6 M15.6 18.5 H17.6 M15.6 25.6 H17.6"/></g></svg>
<div class="b " style="left:1749.00px;top:538.10px;width:60.00px;height:44.70px;background:#fff;border:2px solid #eaeaea;border-radius:17px;"></div>
<div class="b " style="left:1815.00px;top:538.10px;width:59.00px;height:44.70px;background:#fff;border:2px solid #eaeaea;border-radius:17px;"></div>
<svg style="left:1770.00px;top:551.05px" width="18" height="18" viewBox="-9 -9 18 18"><g fill="none" stroke="#bcbcbc" stroke-width="1.2" stroke-linejoin="round"><path d="M-7.2 7.2 L-6.4 3.6 L3.6 -6.4 C4.4 -7.2 5.6 -7.2 6.4 -6.4 C7.2 -5.6 7.2 -4.4 6.4 -3.6 L-3.6 6.4 Z"/><path d="M2.2 -5 L5 -2.2"/></g></svg>
<svg style="left:1835.50px;top:549.15px" width="18" height="20" viewBox="-9 -10 18 20"><g fill="none" stroke="#b2b2b2" stroke-width="1.45" stroke-linejoin="round"><path d="M-7.6 -5.6 H7.6"/><path d="M-3 -5.8 V-7.4 C-3 -8.2 -2.4 -8.6 -1.8 -8.6 H1.8 C2.4 -8.6 3 -8.2 3 -7.4 V-5.8"/><path d="M-6 -5.4 L-5.2 7.4 C-5.2 8.2 -4.6 8.6 -4 8.6 H4 C4.6 8.6 5.2 8.2 5.2 7.4 L6 -5.4"/></g></svg>
<div class="b " style="left:434.00px;top:590.50px;width:111.00px;height:40.00px;background:#ececec;border-radius:17px;"></div>
<span class="t" style="left:444.50px;top:598.00px;line-height:24px;font-size:16px;color:#575757;letter-spacing:0.727px;">2023</span>
<div class="b " style="left:547.00px;top:590.50px;width:97.00px;height:40.00px;background:#ececec;border-radius:17px;"></div>
<span class="t" style="left:558.50px;top:598.50px;line-height:23px;font-size:15.6px;color:#28a745;letter-spacing:0.300px;font-weight:bold;">3</span>
<div class="b " style="left:647.00px;top:590.50px;width:127.00px;height:40.00px;background:#ececec;border-radius:17px;"></div>
<span class="t" style="left:657.50px;top:598.00px;line-height:24px;font-size:16px;color:#575757;letter-spacing:-0.902px;">SIDI IFNI 1</span>
<div class="b " style="left:777.00px;top:590.50px;width:125.00px;height:40.00px;background:#ececec;border-radius:17px;"></div>
<span class="t" style="left:787.50px;top:598.00px;line-height:24px;font-size:16px;color:#575757;letter-spacing:0.692px;">92 Km</span>
<div class="b " style="left:904.00px;top:590.50px;width:168.00px;height:40.00px;background:#ececec;border-radius:17px;"></div>
<span class="t" style="left:914.50px;top:598.00px;line-height:24px;font-size:16px;color:#575757;letter-spacing:0.458px;">697P</span>
<div class="b " style="left:1075.00px;top:590.50px;width:104.00px;height:40.00px;background:#ececec;border-radius:17px;"></div>
<span class="t" style="left:1085.50px;top:598.00px;line-height:24px;font-size:16px;color:#575757;letter-spacing:0.660px;">0.4304</span>
<div class="b " style="left:1181.00px;top:590.50px;width:154.00px;height:40.00px;background:#ececec;border-radius:17px;"></div>
<span class="t" style="left:1191.50px;top:598.00px;line-height:24px;font-size:16px;color:#575757;letter-spacing:1.348px;">Club</span>
<div class="b " style="left:1337.00px;top:590.50px;width:154.00px;height:40.00px;background:#ececec;border-radius:17px;"></div>
<span class="t" style="left:1347.50px;top:598.00px;line-height:24px;font-size:16px;color:#575757;letter-spacing:0.897px;">Générale</span>
<div class="b " style="left:1493.00px;top:590.50px;width:126.00px;height:40.00px;background:#ececec;border-radius:17px;"></div>
<span class="t" style="left:1503.50px;top:598.00px;line-height:24px;font-size:16px;color:#575757;letter-spacing:-0.248px;">1449.77</span>
<div class="b " style="left:1621.00px;top:590.50px;width:126.00px;height:40.00px;background:#fde9b1;border-radius:17px;"></div>
<div class="b " style="left:1632.00px;top:601.60px;width:16.40px;height:16.40px;background:#0c6cfb;border-radius:2.5px;"></div>
<svg style="left:1632px;top:601.60px" width="16.4" height="16.4" viewBox="0 0 16 16"><path d="M3.4 8.3 L6.6 11.5 L12.8 4.6" fill="none" stroke="#fff" stroke-width="2.3"/></svg>
<svg style="left:1654.80px;top:595.00px" width="23" height="30" viewBox="0 0 23 30"><g fill="none" stroke="#45423a" stroke-width="0.85"><rect x="0.5" y="9.2" width="5" height="10.6"/><rect x="8.9" y="1.8" width="4.6" height="9.4"/><rect x="8.9" y="17.6" width="4.6" height="9.4"/><rect x="17.6" y="0.5" width="4.2" height="5.2"/><rect x="17.6" y="7.6" width="4.2" height="5.4"/><rect x="17.6" y="15.8" width="4.2" height="5.4"/><rect x="17.6" y="23" width="4.2" height="5.2"/><path d="M5.5 14.5 H7.2 M7.2 6.5 V22.3 M7.2 6.5 H8.9 M7.2 22.3 H8.9 M13.5 6.5 H15.6 M15.6 3.1 V10.3 M15.6 3.1 H17.6 M15.6 10.3 H17.6 M13.5 22.3 H15.6 M15.6 18.5 V25.6 M15.6 18.5 H17.6 M15.6 25.6 H17.6"/></g></svg>
<div class="b " style="left:1749.00px;top:590.50px;width:60.00px;height:40.00px;background:#ececec;border-radius:17px;"></div>
<div class="b " style="left:1815.00px;top:590.50px;width:59.00px;height:40.00px;background:#ececec;border-radius:17px;"></div>
<svg style="left:1770.00px;top:600.50px" width="18" height="18" viewBox="-9 -9 18 18"><g fill="none" stroke="#bcbcbc" stroke-width="1.2" stroke-linejoin="round"><path d="M-7.2 7.2 L-6.4 3.6 L3.6 -6.4 C4.4 -7.2 5.6 -7.2 6.4 -6.4 C7.2 -5.6 7.2 -4.4 6.4 -3.6 L-3.6 6.4 Z"/><path d="M2.2 -5 L5 -2.2"/></g></svg>
<svg style="left:1835.50px;top:598.60px" width="18" height="20" viewBox="-9 -10 18 20"><g fill="none" stroke="#b2b2b2" stroke-width="1.45" stroke-linejoin="round"><path d="M-7.6 -5.6 H7.6"/><path d="M-3 -5.8 V-7.4 C-3 -8.2 -2.4 -8.6 -1.8 -8.6 H1.8 C2.4 -8.6 3 -8.2 3 -7.4 V-5.8"/><path d="M-6 -5.4 L-5.2 7.4 C-5.2 8.2 -4.6 8.6 -4 8.6 H4 C4.6 8.6 5.2 8.2 5.2 7.4 L6 -5.4"/></g></svg>
<div class="b " style="left:434.00px;top:637.75px;width:111.00px;height:44.70px;background:#fff;border:2px solid #eaeaea;border-radius:17px;"></div>
<span class="t" style="left:446.50px;top:648.20px;line-height:24px;font-size:16px;color:#575757;letter-spacing:0.727px;">2023</span>
<div class="b " style="left:547.00px;top:637.75px;width:97.00px;height:44.70px;background:#fff;border:2px solid #eaeaea;border-radius:17px;"></div>
<span class="t" style="left:560.50px;top:648.70px;line-height:23px;font-size:15.6px;color:#28a745;letter-spacing:0.300px;font-weight:bold;">3</span>
<div class="b " style="left:647.00px;top:637.75px;width:127.00px;height:44.70px;background:#fff;border:2px solid #eaeaea;border-radius:17px;"></div>
<span class="t" style="left:659.50px;top:648.20px;line-height:24px;font-size:16px;color:#575757;letter-spacing:0.963px;">test2</span>
<div class="b " style="left:777.00px;top:637.75px;width:125.00px;height:44.70px;background:#fff;border:2px solid #eaeaea;border-radius:17px;"></div>
<span class="t" style="left:789.50px;top:648.20px;line-height:24px;font-size:16px;color:#575757;letter-spacing:0.692px;">92 Km</span>
<div class="b " style="left:904.00px;top:637.75px;width:168.00px;height:44.70px;background:#fff;border:2px solid #eaeaea;border-radius:17px;"></div>
<span class="t" style="left:916.50px;top:648.20px;line-height:24px;font-size:16px;color:#575757;letter-spacing:0.458px;">697P</span>
<div class="b " style="left:1075.00px;top:637.75px;width:104.00px;height:44.70px;background:#fff;border:2px solid #eaeaea;border-radius:17px;"></div>
<span class="t" style="left:1087.50px;top:648.20px;line-height:24px;font-size:16px;color:#575757;letter-spacing:0.660px;">0.4304</span>
<div class="b " style="left:1181.00px;top:637.75px;width:154.00px;height:44.70px;background:#fff;border:2px solid #eaeaea;border-radius:17px;"></div>
<span class="t" style="left:1193.50px;top:648.20px;line-height:24px;font-size:16px;color:#575757;letter-spacing:1.348px;">Club</span>
<div class="b " style="left:1337.00px;top:637.75px;width:154.00px;height:44.70px;background:#fff;border:2px solid #eaeaea;border-radius:17px;"></div>
<span class="t" style="left:1349.50px;top:648.20px;line-height:24px;font-size:16px;color:#575757;letter-spacing:0.897px;">Générale</span>
<div class="b " style="left:1493.00px;top:637.75px;width:126.00px;height:44.70px;background:#fff;border:2px solid #eaeaea;border-radius:17px;"></div>
<span class="t" style="left:1505.50px;top:648.20px;line-height:24px;font-size:16px;color:#575757;letter-spacing:-0.248px;">1449.77</span>
<div class="b " style="left:1621.00px;top:637.75px;width:126.00px;height:44.70px;background:#fde9b1;border:2px solid #e6e4de;border-radius:17px;"></div>
<div class="b " style="left:1634.00px;top:651.80px;width:16.40px;height:16.40px;background:#0c6cfb;border-radius:2.5px;"></div>
<svg style="left:1634px;top:651.80px" width="16.4" height="16.4" viewBox="0 0 16 16"><path d="M3.4 8.3 L6.6 11.5 L12.8 4.6" fill="none" stroke="#fff" stroke-width="2.3"/></svg>
<svg style="left:1656.80px;top:645.20px" width="23" height="30" viewBox="0 0 23 30"><g fill="none" stroke="#45423a" stroke-width="0.85"><rect x="0.5" y="9.2" width="5" height="10.6"/><rect x="8.9" y="1.8" width="4.6" height="9.4"/><rect x="8.9" y="17.6" width="4.6" height="9.4"/><rect x="17.6" y="0.5" width="4.2" height="5.2"/><rect x="17.6" y="7.6" width="4.2" height="5.4"/><rect x="17.6" y="15.8" width="4.2" height="5.4"/><rect x="17.6" y="23" width="4.2" height="5.2"/><path d="M5.5 14.5 H7.2 M7.2 6.5 V22.3 M7.2 6.5 H8.9 M7.2 22.3 H8.9 M13.5 6.5 H15.6 M15.6 3.1 V10.3 M15.6 3.1 H17.6 M15.6 10.3 H17.6 M13.5 22.3 H15.6 M15.6 18.5 V25.6 M15.6 18.5 H17.6 M15.6 25.6 H17.6"/></g></svg>
<div class="b " style="left:1749.00px;top:637.75px;width:60.00px;height:44.70px;background:#fff;border:2px solid #eaeaea;border-radius:17px;"></div>
<div class="b " style="left:1815.00px;top:637.75px;width:59.00px;height:44.70px;background:#fff;border:2px solid #eaeaea;border-radius:17px;"></div>
<svg style="left:1770.00px;top:650.70px" width="18" height="18" viewBox="-9 -9 18 18"><g fill="none" stroke="#bcbcbc" stroke-width="1.2" stroke-linejoin="round"><path d="M-7.2 7.2 L-6.4 3.6 L3.6 -6.4 C4.4 -7.2 5.6 -7.2 6.4 -6.4 C7.2 -5.6 7.2 -4.4 6.4 -3.6 L-3.6 6.4 Z"/><path d="M2.2 -5 L5 -2.2"/></g></svg>
<svg style="left:1835.50px;top:648.80px" width="18" height="20" viewBox="-9 -10 18 20"><g fill="none" stroke="#b2b2b2" stroke-width="1.45" stroke-linejoin="round"><path d="M-7.6 -5.6 H7.6"/><path d="M-3 -5.8 V-7.4 C-3 -8.2 -2.4 -8.6 -1.8 -8.6 H1.8 C2.4 -8.6 3 -8.2 3 -7.4 V-5.8"/><path d="M-6 -5.4 L-5.2 7.4 C-5.2 8.2 -4.6 8.6 -4 8.6 H4 C4.6 8.6 5.2 8.2 5.2 7.4 L6 -5.4"/></g></svg>
<div class="b " style="left:434.00px;top:690.00px;width:111.00px;height:40.00px;background:#ececec;border-radius:17px;"></div>
<span class="t" style="left:444.50px;top:697.50px;line-height:24px;font-size:16px;color:#575757;letter-spacing:0.727px;">2023</span>
<div class="b " style="left:547.00px;top:690.00px;width:97.00px;height:40.00px;background:#ececec;border-radius:17px;"></div>
<span class="t" style="left:558.50px;top:698.00px;line-height:23px;font-size:15.6px;color:#28a745;letter-spacing:0.300px;font-weight:bold;">4</span>
<div class="b " style="left:647.00px;top:690.00px;width:127.00px;height:40.00px;background:#ececec;border-radius:17px;"></div>
<span class="t" style="left:657.50px;top:697.50px;line-height:24px;font-size:16px;color:#575757;letter-spacing:0.937px;">Oued Chbika</span>
<div class="b " style="left:777.00px;top:690.00px;width:125.00px;height:40.00px;background:#ececec;border-radius:17px;"></div>
<span class="t" style="left:787.50px;top:697.50px;line-height:24px;font-size:16px;color:#575757;letter-spacing:-0.240px;">248 Km</span>
<div class="b " style="left:904.00px;top:690.00px;width:168.00px;height:40.00px;background:#ececec;border-radius:17px;"></div>
<span class="t" style="left:914.50px;top:697.50px;line-height:24px;font-size:16px;color:#575757;letter-spacing:-0.442px;">510P</span>
<div class="b " style="left:1075.00px;top:690.00px;width:104.00px;height:40.00px;background:#ececec;border-radius:17px;"></div>
<span class="t" style="left:1085.50px;top:697.50px;line-height:24px;font-size:16px;color:#575757;letter-spacing:0.394px;">0.7843</span>
<div class="b " style="left:1181.00px;top:690.00px;width:154.00px;height:40.00px;background:#ececec;border-radius:17px;"></div>
<span class="t" style="left:1191.50px;top:697.50px;line-height:24px;font-size:16px;color:#575757;letter-spacing:1.348px;">Club</span>
<div class="b " style="left:1337.00px;top:690.00px;width:154.00px;height:40.00px;background:#ececec;border-radius:17px;"></div>
<span class="t" style="left:1347.50px;top:697.50px;line-height:24px;font-size:16px;color:#575757;letter-spacing:0.897px;">Générale</span>
<div class="b " style="left:1493.00px;top:690.00px;width:126.00px;height:40.00px;background:#ececec;border-radius:17px;"></div>
<span class="t" style="left:1503.50px;top:697.50px;line-height:24px;font-size:16px;color:#575757;letter-spacing:-0.077px;">1354.24</span>
<div class="b " style="left:1621.00px;top:690.00px;width:126.00px;height:40.00px;background:#fde9b1;border-radius:17px;"></div>
<div class="b " style="left:1632.00px;top:701.10px;width:16.40px;height:16.40px;background:#0c6cfb;border-radius:2.5px;"></div>
<svg style="left:1632px;top:701.10px" width="16.4" height="16.4" viewBox="0 0 16 16"><path d="M3.4 8.3 L6.6 11.5 L12.8 4.6" fill="none" stroke="#fff" stroke-width="2.3"/></svg>
<svg style="left:1654.80px;top:694.50px" width="23" height="30" viewBox="0 0 23 30"><g fill="none" stroke="#45423a" stroke-width="0.85"><rect x="0.5" y="9.2" width="5" height="10.6"/><rect x="8.9" y="1.8" width="4.6" height="9.4"/><rect x="8.9" y="17.6" width="4.6" height="9.4"/><rect x="17.6" y="0.5" width="4.2" height="5.2"/><rect x="17.6" y="7.6" width="4.2" height="5.4"/><rect x="17.6" y="15.8" width="4.2" height="5.4"/><rect x="17.6" y="23" width="4.2" height="5.2"/><path d="M5.5 14.5 H7.2 M7.2 6.5 V22.3 M7.2 6.5 H8.9 M7.2 22.3 H8.9 M13.5 6.5 H15.6 M15.6 3.1 V10.3 M15.6 3.1 H17.6 M15.6 10.3 H17.6 M13.5 22.3 H15.6 M15.6 18.5 V25.6 M15.6 18.5 H17.6 M15.6 25.6 H17.6"/></g></svg>
<div class="b " style="left:1749.00px;top:690.00px;width:60.00px;height:40.00px;background:#ececec;border-radius:17px;"></div>
<div class="b " style="left:1815.00px;top:690.00px;width:59.00px;height:40.00px;background:#ececec;border-radius:17px;"></div>
<svg style="left:1770.00px;top:700.00px" width="18" height="18" viewBox="-9 -9 18 18"><g fill="none" stroke="#bcbcbc" stroke-width="1.2" stroke-linejoin="round"><path d="M-7.2 7.2 L-6.4 3.6 L3.6 -6.4 C4.4 -7.2 5.6 -7.2 6.4 -6.4 C7.2 -5.6 7.2 -4.4 6.4 -3.6 L-3.6 6.4 Z"/><path d="M2.2 -5 L5 -2.2"/></g></svg>
<svg style="left:1835.50px;top:698.10px" width="18" height="20" viewBox="-9 -10 18 20"><g fill="none" stroke="#b2b2b2" stroke-width="1.45" stroke-linejoin="round"><path d="M-7.6 -5.6 H7.6"/><path d="M-3 -5.8 V-7.4 C-3 -8.2 -2.4 -8.6 -1.8 -8.6 H1.8 C2.4 -8.6 3 -8.2 3 -7.4 V-5.8"/><path d="M-6 -5.4 L-5.2 7.4 C-5.2 8.2 -4.6 8.6 -4 8.6 H4 C4.6 8.6 5.2 8.2 5.2 7.4 L6 -5.4"/></g></svg>
<div class="b " style="left:434.00px;top:737.40px;width:111.00px;height:44.70px;background:#fff;border:2px solid #eaeaea;border-radius:17px;"></div>
<span class="t" style="left:446.50px;top:747.85px;line-height:24px;font-size:16px;color:#575757;letter-spacing:0.727px;">2023</span>
<div class="b " style="left:547.00px;top:737.40px;width:97.00px;height:44.70px;background:#fff;border:2px solid #eaeaea;border-radius:17px;"></div>
<span class="t" style="left:560.50px;top:748.35px;line-height:23px;font-size:15.6px;color:#28a745;letter-spacing:0.300px;font-weight:bold;">4</span>
<div class="b " style="left:647.00px;top:737.40px;width:127.00px;height:44.70px;background:#fff;border:2px solid #eaeaea;border-radius:17px;"></div>
<span class="t" style="left:659.50px;top:747.85px;line-height:24px;font-size:16px;color:#575757;letter-spacing:-0.307px;">TANTAN WA...</span>
<div class="b " style="left:777.00px;top:737.40px;width:125.00px;height:44.70px;background:#fff;border:2px solid #eaeaea;border-radius:17px;"></div>
<span class="t" style="left:789.50px;top:747.85px;line-height:24px;font-size:16px;color:#575757;letter-spacing:0.743px;">240 Km</span>
<div class="b " style="left:904.00px;top:737.40px;width:168.00px;height:44.70px;background:#fff;border:2px solid #eaeaea;border-radius:17px;"></div>
<span class="t" style="left:916.50px;top:747.85px;line-height:24px;font-size:16px;color:#575757;letter-spacing:0.533px;">526P</span>
<div class="b " style="left:1075.00px;top:737.40px;width:104.00px;height:44.70px;background:#fff;border:2px solid #eaeaea;border-radius:17px;"></div>
<span class="t" style="left:1087.50px;top:747.85px;line-height:24px;font-size:16px;color:#575757;letter-spacing:0.544px;">0.7605</span>
<div class="b " style="left:1181.00px;top:737.40px;width:154.00px;height:44.70px;background:#fff;border:2px solid #eaeaea;border-radius:17px;"></div>
<span class="t" style="left:1193.50px;top:747.85px;line-height:24px;font-size:16px;color:#575757;letter-spacing:1.348px;">Club</span>
<div class="b " style="left:1337.00px;top:737.40px;width:154.00px;height:44.70px;background:#fff;border:2px solid #eaeaea;border-radius:17px;"></div>
<span class="t" style="left:1349.50px;top:747.85px;line-height:24px;font-size:16px;color:#575757;letter-spacing:0.897px;">Générale</span>
<div class="b " style="left:1493.00px;top:737.40px;width:126.00px;height:44.70px;background:#fff;border:2px solid #eaeaea;border-radius:17px;"></div>
<span class="t" style="left:1505.50px;top:747.85px;line-height:24px;font-size:16px;color:#575757;letter-spacing:0.038px;">1296.59</span>
<div class="b " style="left:1621.00px;top:737.40px;width:126.00px;height:44.70px;background:#fde9b1;border:2px solid #e6e4de;border-radius:17px;"></div>
<div class="b " style="left:1634.00px;top:751.45px;width:16.40px;height:16.40px;background:#0c6cfb;border-radius:2.5px;"></div>
<svg style="left:1634px;top:751.45px" width="16.4" height="16.4" viewBox="0 0 16 16"><path d="M3.4 8.3 L6.6 11.5 L12.8 4.6" fill="none" stroke="#fff" stroke-width="2.3"/></svg>
<svg style="left:1656.80px;top:744.85px" width="23" height="30" viewBox="0 0 23 30"><g fill="none" stroke="#45423a" stroke-width="0.85"><rect x="0.5" y="9.2" width="5" height="10.6"/><rect x="8.9" y="1.8" width="4.6" height="9.4"/><rect x="8.9" y="17.6" width="4.6" height="9.4"/><rect x="17.6" y="0.5" width="4.2" height="5.2"/><rect x="17.6" y="7.6" width="4.2" height="5.4"/><rect x="17.6" y="15.8" width="4.2" height="5.4"/><rect x="17.6" y="23" width="4.2" height="5.2"/><path d="M5.5 14.5 H7.2 M7.2 6.5 V22.3 M7.2 6.5 H8.9 M7.2 22.3 H8.9 M13.5 6.5 H15.6 M15.6 3.1 V10.3 M15.6 3.1 H17.6 M15.6 10.3 H17.6 M13.5 22.3 H15.6 M15.6 18.5 V25.6 M15.6 18.5 H17.6 M15.6 25.6 H17.6"/></g></svg>
<div class="b " style="left:1749.00px;top:737.40px;width:60.00px;height:44.70px;background:#fff;border:2px solid #eaeaea;border-radius:17px;"></div>
<div class="b " style="left:1815.00px;top:737.40px;width:59.00px;height:44.70px;background:#fff;border:2px solid #eaeaea;border-radius:17px;"></div>
<svg style="left:1770.00px;top:750.35px" width="18" height="18" viewBox="-9 -9 18 18"><g fill="none" stroke="#bcbcbc" stroke-width="1.2" stroke-linejoin="round"><path d="M-7.2 7.2 L-6.4 3.6 L3.6 -6.4 C4.4 -7.2 5.6 -7.2 6.4 -6.4 C7.2 -5.6 7.2 -4.4 6.4 -3.6 L-3.6 6.4 Z"/><path d="M2.2 -5 L5 -2.2"/></g></svg>
<svg style="left:1835.50px;top:748.45px" width="18" height="20" viewBox="-9 -10 18 20"><g fill="none" stroke="#b2b2b2" stroke-width="1.45" stroke-linejoin="round"><path d="M-7.6 -5.6 H7.6"/><path d="M-3 -5.8 V-7.4 C-3 -8.2 -2.4 -8.6 -1.8 -8.6 H1.8 C2.4 -8.6 3 -8.2 3 -7.4 V-5.8"/><path d="M-6 -5.4 L-5.2 7.4 C-5.2 8.2 -4.6 8.6 -4 8.6 H4 C4.6 8.6 5.2 8.2 5.2 7.4 L6 -5.4"/></g></svg>
<div class="b " style="left:434.00px;top:789.50px;width:111.00px;height:40.00px;background:#ececec;border-radius:17px;"></div>
<span class="t" style="left:444.50px;top:797.00px;line-height:24px;font-size:16px;color:#575757;letter-spacing:0.727px;">2023</span>
<div class="b " style="left:547.00px;top:789.50px;width:97.00px;height:40.00px;background:#ececec;border-radius:17px;"></div>
<span class="t" style="left:558.50px;top:797.50px;line-height:23px;font-size:15.6px;color:#17a2b8;letter-spacing:0.300px;font-weight:bold;">8</span>
<div class="b " style="left:647.00px;top:789.50px;width:127.00px;height:40.00px;background:#ececec;border-radius:17px;"></div>
<span class="t" style="left:657.50px;top:797.00px;line-height:24px;font-size:16px;color:#575757;letter-spacing:-0.077px;">Foum El Ou...</span>
<div class="b " style="left:777.00px;top:789.50px;width:125.00px;height:40.00px;background:#ececec;border-radius:17px;"></div>
<span class="t" style="left:787.50px;top:797.00px;line-height:24px;font-size:16px;color:#575757;letter-spacing:0.627px;">475 Km</span>
<div class="b " style="left:904.00px;top:789.50px;width:168.00px;height:40.00px;background:#ececec;border-radius:17px;"></div>
<span class="t" style="left:914.50px;top:797.00px;line-height:24px;font-size:16px;color:#575757;letter-spacing:-0.942px;">147P</span>
<div class="b " style="left:1075.00px;top:789.50px;width:104.00px;height:40.00px;background:#ececec;border-radius:17px;"></div>
<span class="t" style="left:1085.50px;top:797.00px;line-height:24px;font-size:16px;color:#575757;letter-spacing:0.394px;">5.4422</span>
<div class="b " style="left:1181.00px;top:789.50px;width:154.00px;height:40.00px;background:#ececec;border-radius:17px;"></div>
<span class="t" style="left:1191.50px;top:797.00px;line-height:24px;font-size:16px;color:#575757;letter-spacing:1.348px;">Club</span>
<div class="b " style="left:1337.00px;top:789.50px;width:154.00px;height:40.00px;background:#ececec;border-radius:17px;"></div>
<span class="t" style="left:1347.50px;top:797.00px;line-height:24px;font-size:16px;color:#575757;letter-spacing:0.897px;">Générale</span>
<div class="b " style="left:1493.00px;top:789.50px;width:126.00px;height:40.00px;background:#ececec;border-radius:17px;"></div>
<span class="t" style="left:1503.50px;top:797.00px;line-height:24px;font-size:16px;color:#575757;letter-spacing:0.452px;">830.2</span>
<div class="b " style="left:1621.00px;top:789.50px;width:126.00px;height:40.00px;background:#fde9b1;border-radius:17px;"></div>
<div class="b " style="left:1632.00px;top:800.60px;width:16.40px;height:16.40px;background:#0c6cfb;border-radius:2.5px;"></div>
<svg style="left:1632px;top:800.60px" width="16.4" height="16.4" viewBox="0 0 16 16"><path d="M3.4 8.3 L6.6 11.5 L12.8 4.6" fill="none" stroke="#fff" stroke-width="2.3"/></svg>
<svg style="left:1654.80px;top:794.00px" width="23" height="30" viewBox="0 0 23 30"><g fill="none" stroke="#45423a" stroke-width="0.85"><rect x="0.5" y="9.2" width="5" height="10.6"/><rect x="8.9" y="1.8" width="4.6" height="9.4"/><rect x="8.9" y="17.6" width="4.6" height="9.4"/><rect x="17.6" y="0.5" width="4.2" height="5.2"/><rect x="17.6" y="7.6" width="4.2" height="5.4"/><rect x="17.6" y="15.8" width="4.2" height="5.4"/><rect x="17.6" y="23" width="4.2" height="5.2"/><path d="M5.5 14.5 H7.2 M7.2 6.5 V22.3 M7.2 6.5 H8.9 M7.2 22.3 H8.9 M13.5 6.5 H15.6 M15.6 3.1 V10.3 M15.6 3.1 H17.6 M15.6 10.3 H17.6 M13.5 22.3 H15.6 M15.6 18.5 V25.6 M15.6 18.5 H17.6 M15.6 25.6 H17.6"/></g></svg>
<div class="b " style="left:1749.00px;top:789.50px;width:60.00px;height:40.00px;background:#ececec;border-radius:17px;"></div>
<div class="b " style="left:1815.00px;top:789.50px;width:59.00px;height:40.00px;background:#ececec;border-radius:17px;"></div>
<svg style="left:1770.00px;top:799.50px" width="18" height="18" viewBox="-9 -9 18 18"><g fill="none" stroke="#bcbcbc" stroke-width="1.2" stroke-linejoin="round"><path d="M-7.2 7.2 L-6.4 3.6 L3.6 -6.4 C4.4 -7.2 5.6 -7.2 6.4 -6.4 C7.2 -5.6 7.2 -4.4 6.4 -3.6 L-3.6 6.4 Z"/><path d="M2.2 -5 L5 -2.2"/></g></svg>
<svg style="left:1835.50px;top:797.60px" width="18" height="20" viewBox="-9 -10 18 20"><g fill="none" stroke="#b2b2b2" stroke-width="1.45" stroke-linejoin="round"><path d="M-7.6 -5.6 H7.6"/><path d="M-3 -5.8 V-7.4 C-3 -8.2 -2.4 -8.6 -1.8 -8.6 H1.8 C2.4 -8.6 3 -8.2 3 -7.4 V-5.8"/><path d="M-6 -5.4 L-5.2 7.4 C-5.2 8.2 -4.6 8.6 -4 8.6 H4 C4.6 8.6 5.2 8.2 5.2 7.4 L6 -5.4"/></g></svg>
<div class="b " style="left:434.00px;top:837.05px;width:111.00px;height:44.70px;background:#fff;border:2px solid #eaeaea;border-radius:17px;"></div>
<span class="t" style="left:446.50px;top:847.50px;line-height:24px;font-size:16px;color:#575757;letter-spacing:0.727px;">2023</span>
<div class="b " style="left:547.00px;top:837.05px;width:97.00px;height:44.70px;background:#fff;border:2px solid #eaeaea;border-radius:17px;"></div>
<span class="t" style="left:560.50px;top:848.00px;line-height:23px;font-size:15.6px;color:#17a2b8;letter-spacing:0.300px;font-weight:bold;">9</span>
<div class="b " style="left:647.00px;top:837.05px;width:127.00px;height:44.70px;background:#fff;border:2px solid #eaeaea;border-radius:17px;"></div>
<span class="t" style="left:659.50px;top:847.50px;line-height:24px;font-size:16px;color:#575757;letter-spacing:-0.762px;">TERFAYA</span>
<div class="b " style="left:777.00px;top:837.05px;width:125.00px;height:44.70px;background:#fff;border:2px solid #eaeaea;border-radius:17px;"></div>
<span class="t" style="left:789.50px;top:847.50px;line-height:24px;font-size:16px;color:#575757;letter-spacing:0.743px;">394 Km</span>
<div class="b " style="left:904.00px;top:837.05px;width:168.00px;height:44.70px;background:#fff;border:2px solid #eaeaea;border-radius:17px;"></div>
<span class="t" style="left:916.50px;top:847.50px;line-height:24px;font-size:16px;color:#575757;letter-spacing:-0.942px;">170P</span>
<div class="b " style="left:1075.00px;top:837.05px;width:104.00px;height:44.70px;background:#fff;border:2px solid #eaeaea;border-radius:17px;"></div>
<span class="t" style="left:1087.50px;top:847.50px;line-height:24px;font-size:16px;color:#575757;letter-spacing:-0.173px;">5.2941</span>
<div class="b " style="left:1181.00px;top:837.05px;width:154.00px;height:44.70px;background:#fff;border:2px solid #eaeaea;border-radius:17px;"></div>
<span class="t" style="left:1193.50px;top:847.50px;line-height:24px;font-size:16px;color:#575757;letter-spacing:1.348px;">Club</span>
<div class="b " style="left:1337.00px;top:837.05px;width:154.00px;height:44.70px;background:#fff;border:2px solid #eaeaea;border-radius:17px;"></div>
<span class="t" style="left:1349.50px;top:847.50px;line-height:24px;font-size:16px;color:#575757;letter-spacing:0.897px;">Générale</span>
<div class="b " style="left:1493.00px;top:837.05px;width:126.00px;height:44.70px;background:#fff;border:2px solid #eaeaea;border-radius:17px;"></div>
<span class="t" style="left:1505.50px;top:847.50px;line-height:24px;font-size:16px;color:#575757;letter-spacing:-0.134px;">1370.44</span>
<div class="b " style="left:1621.00px;top:837.05px;width:126.00px;height:44.70px;background:#fde9b1;border:2px solid #e6e4de;border-radius:17px;"></div>
<div class="b " style="left:1634.00px;top:851.10px;width:16.40px;height:16.40px;background:#0c6cfb;border-radius:2.5px;"></div>
<svg style="left:1634px;top:851.10px" width="16.4" height="16.4" viewBox="0 0 16 16"><path d="M3.4 8.3 L6.6 11.5 L12.8 4.6" fill="none" stroke="#fff" stroke-width="2.3"/></svg>
<svg style="left:1656.80px;top:844.50px" width="23" height="30" viewBox="0 0 23 30"><g fill="none" stroke="#45423a" stroke-width="0.85"><rect x="0.5" y="9.2" width="5" height="10.6"/><rect x="8.9" y="1.8" width="4.6" height="9.4"/><rect x="8.9" y="17.6" width="4.6" height="9.4"/><rect x="17.6" y="0.5" width="4.2" height="5.2"/><rect x="17.6" y="7.6" width="4.2" height="5.4"/><rect x="17.6" y="15.8" width="4.2" height="5.4"/><rect x="17.6" y="23" width="4.2" height="5.2"/><path d="M5.5 14.5 H7.2 M7.2 6.5 V22.3 M7.2 6.5 H8.9 M7.2 22.3 H8.9 M13.5 6.5 H15.6 M15.6 3.1 V10.3 M15.6 3.1 H17.6 M15.6 10.3 H17.6 M13.5 22.3 H15.6 M15.6 18.5 V25.6 M15.6 18.5 H17.6 M15.6 25.6 H17.6"/></g></svg>
<div class="b " style="left:1749.00px;top:837.05px;width:60.00px;height:44.70px;background:#fff;border:2px solid #eaeaea;border-radius:17px;"></div>
<div class="b " style="left:1815.00px;top:837.05px;width:59.00px;height:44.70px;background:#fff;border:2px solid #eaeaea;border-radius:17px;"></div>
<svg style="left:1770.00px;top:850.00px" width="18" height="18" viewBox="-9 -9 18 18"><g fill="none" stroke="#bcbcbc" stroke-width="1.2" stroke-linejoin="round"><path d="M-7.2 7.2 L-6.4 3.6 L3.6 -6.4 C4.4 -7.2 5.6 -7.2 6.4 -6.4 C7.2 -5.6 7.2 -4.4 6.4 -3.6 L-3.6 6.4 Z"/><path d="M2.2 -5 L5 -2.2"/></g></svg>
<svg style="left:1835.50px;top:848.10px" width="18" height="20" viewBox="-9 -10 18 20"><g fill="none" stroke="#b2b2b2" stroke-width="1.45" stroke-linejoin="round"><path d="M-7.6 -5.6 H7.6"/><path d="M-3 -5.8 V-7.4 C-3 -8.2 -2.4 -8.6 -1.8 -8.6 H1.8 C2.4 -8.6 3 -8.2 3 -7.4 V-5.8"/><path d="M-6 -5.4 L-5.2 7.4 C-5.2 8.2 -4.6 8.6 -4 8.6 H4 C4.6 8.6 5.2 8.2 5.2 7.4 L6 -5.4"/></g></svg>
<div class="b " style="left:434.00px;top:889.00px;width:111.00px;height:40.00px;background:#ececec;border-radius:17px;"></div>
<span class="t" style="left:444.50px;top:896.50px;line-height:24px;font-size:16px;color:#575757;letter-spacing:0.577px;">2022</span>
<div class="b " style="left:547.00px;top:889.00px;width:97.00px;height:40.00px;background:#ececec;border-radius:17px;"></div>
<span class="t" style="left:558.50px;top:897.00px;line-height:23px;font-size:15.6px;color:#17a2b8;letter-spacing:0.300px;font-weight:bold;">10</span>
<div class="b " style="left:647.00px;top:889.00px;width:127.00px;height:40.00px;background:#ececec;border-radius:17px;"></div>
<span class="t" style="left:657.50px;top:896.50px;line-height:24px;font-size:16px;color:#575757;letter-spacing:-1.159px;">LEBYAR</span>
<div class="b " style="left:777.00px;top:889.00px;width:125.00px;height:40.00px;background:#ececec;border-radius:17px;"></div>
<span class="t" style="left:787.50px;top:896.50px;line-height:24px;font-size:16px;color:#575757;letter-spacing:0.093px;">144 Km</span>
<div class="b " style="left:904.00px;top:889.00px;width:168.00px;height:40.00px;background:#ececec;border-radius:17px;"></div>
<span class="t" style="left:914.50px;top:896.50px;line-height:24px;font-size:16px;color:#575757;letter-spacing:-0.393px;">1268P</span>
<div class="b " style="left:1075.00px;top:889.00px;width:104.00px;height:40.00px;background:#ececec;border-radius:17px;"></div>
<span class="t" style="left:1085.50px;top:896.50px;line-height:24px;font-size:16px;color:#575757;letter-spacing:0.660px;">0.8945</span>
<div class="b " style="left:1181.00px;top:889.00px;width:154.00px;height:40.00px;background:#ececec;border-radius:17px;"></div>
<span class="t" style="left:1191.50px;top:896.50px;line-height:24px;font-size:16px;color:#575757;letter-spacing:1.348px;">Club</span>
<div class="b " style="left:1337.00px;top:889.00px;width:154.00px;height:40.00px;background:#ececec;border-radius:17px;"></div>
<span class="t" style="left:1347.50px;top:896.50px;line-height:24px;font-size:16px;color:#575757;letter-spacing:0.897px;">Générale</span>
<div class="b " style="left:1493.00px;top:889.00px;width:126.00px;height:40.00px;background:#ececec;border-radius:17px;"></div>
<span class="t" style="left:1503.50px;top:896.50px;line-height:24px;font-size:16px;color:#575757;letter-spacing:-0.805px;">1201.62</span>
<div class="b " style="left:1621.00px;top:889.00px;width:126.00px;height:40.00px;background:#fde9b1;border-radius:17px;"></div>
<div class="b " style="left:1632.00px;top:900.10px;width:16.40px;height:16.40px;background:#0c6cfb;border-radius:2.5px;"></div>
<svg style="left:1632px;top:900.10px" width="16.4" height="16.4" viewBox="0 0 16 16"><path d="M3.4 8.3 L6.6 11.5 L12.8 4.6" fill="none" stroke="#fff" stroke-width="2.3"/></svg>
<svg style="left:1654.80px;top:893.50px" width="23" height="30" viewBox="0 0 23 30"><g fill="none" stroke="#45423a" stroke-width="0.85"><rect x="0.5" y="9.2" width="5" height="10.6"/><rect x="8.9" y="1.8" width="4.6" height="9.4"/><rect x="8.9" y="17.6" width="4.6" height="9.4"/><rect x="17.6" y="0.5" width="4.2" height="5.2"/><rect x="17.6" y="7.6" width="4.2" height="5.4"/><rect x="17.6" y="15.8" width="4.2" height="5.4"/><rect x="17.6" y="23" width="4.2" height="5.2"/><path d="M5.5 14.5 H7.2 M7.2 6.5 V22.3 M7.2 6.5 H8.9 M7.2 22.3 H8.9 M13.5 6.5 H15.6 M15.6 3.1 V10.3 M15.6 3.1 H17.6 M15.6 10.3 H17.6 M13.5 22.3 H15.6 M15.6 18.5 V25.6 M15.6 18.5 H17.6 M15.6 25.6 H17.6"/></g></svg>
<div class="b " style="left:1749.00px;top:889.00px;width:60.00px;height:40.00px;background:#ececec;border-radius:17px;"></div>
<div class="b " style="left:1815.00px;top:889.00px;width:59.00px;height:40.00px;background:#ececec;border-radius:17px;"></div>
<svg style="left:1770.00px;top:899.00px" width="18" height="18" viewBox="-9 -9 18 18"><g fill="none" stroke="#bcbcbc" stroke-width="1.2" stroke-linejoin="round"><path d="M-7.2 7.2 L-6.4 3.6 L3.6 -6.4 C4.4 -7.2 5.6 -7.2 6.4 -6.4 C7.2 -5.6 7.2 -4.4 6.4 -3.6 L-3.6 6.4 Z"/><path d="M2.2 -5 L5 -2.2"/></g></svg>
<svg style="left:1835.50px;top:897.10px" width="18" height="20" viewBox="-9 -10 18 20"><g fill="none" stroke="#b2b2b2" stroke-width="1.45" stroke-linejoin="round"><path d="M-7.6 -5.6 H7.6"/><path d="M-3 -5.8 V-7.4 C-3 -8.2 -2.4 -8.6 -1.8 -8.6 H1.8 C2.4 -8.6 3 -8.2 3 -7.4 V-5.8"/><path d="M-6 -5.4 L-5.2 7.4 C-5.2 8.2 -4.6 8.6 -4 8.6 H4 C4.6 8.6 5.2 8.2 5.2 7.4 L6 -5.4"/></g></svg>
<div class="b " style="left:1908.00px;top:0.00px;width:12.00px;height:928.00px;background:#f1f1f1;"></div>
<div class="b " style="left:1908.00px;top:40.00px;width:12.00px;height:407.00px;background:#33b1ff;"></div>
</body></html>
